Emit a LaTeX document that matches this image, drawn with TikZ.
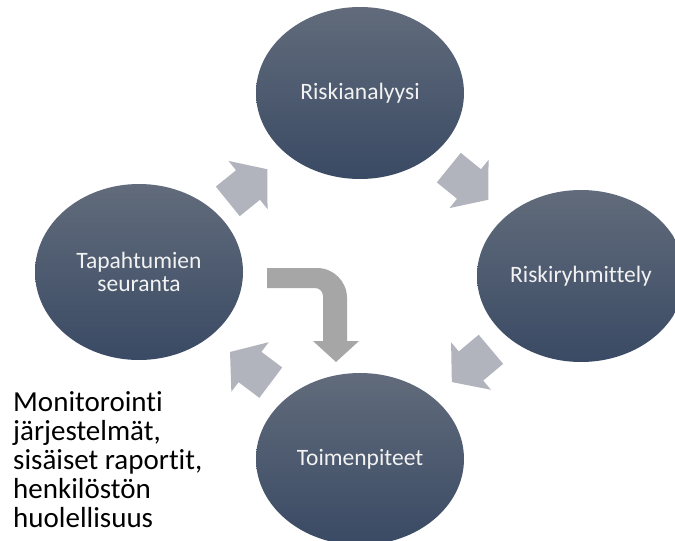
\documentclass[tikz,border=0pt]{standalone}
\usepackage{fontspec}
\setmainfont{Carlito}[Ligatures=NoCommon]
\usetikzlibrary{shapes.geometric}
\definecolor{elltop}{RGB}{97,107,123}
\definecolor{ellmid}{RGB}{68,83,108}
\definecolor{ellbot}{RGB}{58,74,100}
\definecolor{cyclegray}{RGB}{178,180,189}
\definecolor{bentgray}{RGB}{166,166,166}
\definecolor{labeltext}{RGB}{242,242,242}
\tikzset{
  stage/.style={ellipse, inner sep=0pt, minimum width=208pt, minimum height=172pt,
    top color=elltop, middle color=ellmid, bottom color=ellbot,
    text=labeltext, align=center, font=\fontsize{23.5}{23}\selectfont},
  cyclearrow/.style={fill=cyclegray, draw=none},
  bentarrow/.style={fill=bentgray, draw=none},
  note/.style={align=left, inner sep=0pt, font=\fontsize{29}{29}\selectfont, text=black}
}
\begin{document}
\begin{tikzpicture}[x=1pt,y=-1pt]
\useasboundingbox (0,0) rectangle (675,541);
\clip (0,0) rectangle (675,541);
\fill[white] (0,0) rectangle (675,541);

\node[stage] (top) at (360,93) {Riskianalyysi};
\node[stage] (right) at (581,276) {Riskiryhmittely};
\node[stage] (bottom) at (360,459) {Toimenpiteet};
\node[stage, minimum height=176pt] (left) at (139,272) {Tapahtumien\\seuranta};

% cycle arrows
\path[cyclearrow, shift={(248,185)}, rotate=39]
  (-26,-19) -- (0,-19) -- (0,-31) -- (25,0) -- (0,31) -- (0,19) -- (-26,19) -- cycle;
\path[cyclearrow, shift={(469,184)}, rotate=-39]
  (-26,-19) -- (0,-19) -- (0,-31) -- (25,0) -- (0,31) -- (0,19) -- (-26,19) -- cycle;
\path[cyclearrow, shift={(471,366)}, rotate=220]
  (-26,-19) -- (0,-19) -- (0,-31) -- (25,0) -- (0,31) -- (0,19) -- (-26,19) -- cycle;
\path[cyclearrow, shift={(250,367)}, rotate=143]
  (-26,-19) -- (0,-19) -- (0,-31) -- (25,0) -- (0,31) -- (0,19) -- (-26,19) -- cycle;

% bent arrow
\path[bentarrow]
  (267,268) -- (317,268) .. controls (333.6,268) and (347,281.4) .. (347,298)
  -- (347,341) -- (359,341) -- (336,362) -- (313,341) -- (323,341) -- (323,296)
  .. controls (323,291.6) and (319.4,288) .. (315,288) -- (267,288) -- cycle;

\node[note, anchor=north west] (noteText) at (13,391)
  {Monitorointi\\järjestelmät,\\sisäiset raportit,\\henkilöstön\\huolellisuus};
\end{tikzpicture}
\end{document}
